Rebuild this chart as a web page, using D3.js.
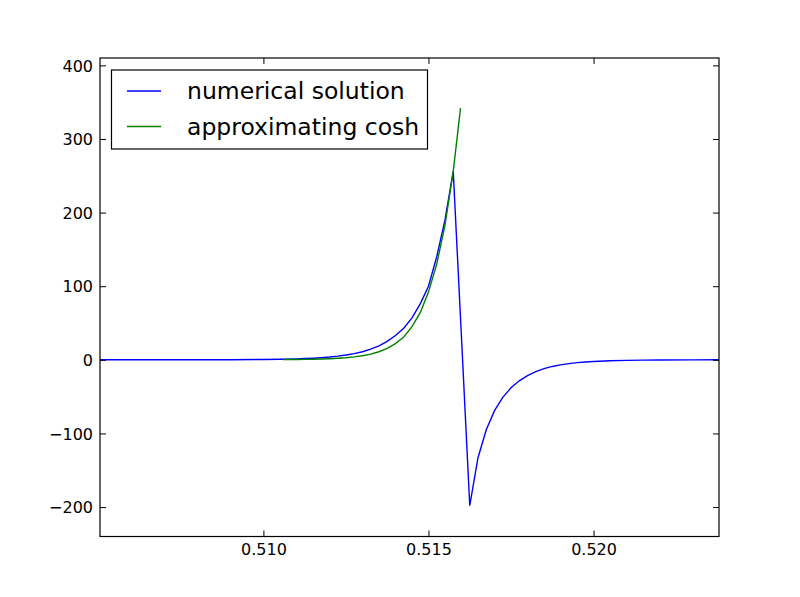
<!DOCTYPE html>
<html>
<head>
<meta charset="utf-8">
<script src="https://cdn.jsdelivr.net/npm/d3@7"></script>
<style>
  html, body { margin: 0; padding: 0; background: #fff; }
  svg { display: block; font-family: "DejaVu Sans", sans-serif; }
</style>
</head>
<body>
<svg id="chart" width="800" height="597"></svg>
<script>
// ---- data ----
const numX = [0.505, 0.506, 0.507, 0.508, 0.509, 0.510, 0.5105, 0.511, 0.51125, 0.5115, 0.51175,
  0.512, 0.51225, 0.5125, 0.51275, 0.513, 0.51325, 0.5135, 0.51375, 0.514, 0.51425, 0.5145,
  0.51475, 0.515, 0.51525, 0.5155, 0.51575, 0.516, 0.51625, 0.5165, 0.51675, 0.517, 0.51725,
  0.5175, 0.51775, 0.518, 0.51825, 0.5185, 0.51875, 0.519, 0.51925, 0.5195, 0.51975, 0.520,
  0.5205, 0.521, 0.5215, 0.522, 0.523, 0.5238];
const numY = [0, 0.01, 0.03, 0.08, 0.2, 0.5, 0.8, 1.3, 1.7, 2.2, 2.9,
  3.8, 5, 6.5, 8.5, 11, 14.5, 19, 25, 33, 43, 57,
  76, 100, 140, 190, 256, 30, -198, -133, -95, -69, -51,
  -38, -28.5, -21.5, -16, -12, -9, -6.8, -5.1, -3.8, -2.9, -2.2,
  -1.2, -0.7, -0.4, -0.2, -0.05, 0];

const coshX = [0.5106, 0.51075, 0.511, 0.51125, 0.5115, 0.51175, 0.512, 0.51225, 0.5125,
  0.51275, 0.513, 0.51325, 0.5135, 0.51375, 0.514, 0.51425, 0.5145, 0.51475, 0.515,
  0.51525, 0.5155, 0.51575, 0.51597];
const coshY = [0.3, 0.35, 0.45, 0.6, 0.8, 1.1, 1.5, 2.1, 2.9,
  4, 5.5, 7.8, 11, 15.5, 22, 31, 45, 64, 92,
  130, 183, 256, 342];

const xTicks = [0.510, 0.515, 0.520];
const yTicks = [-200, -100, 0, 100, 200, 300, 400];
const seriesNames = ["numerical solution", "approximating cosh"];
const seriesColors = ["#0000ff", "#008000"];

// ---- layout ----
const L = 100, R = 719, T = 58, B = 536.5;
const svg = d3.select("#chart");
const x = d3.scaleLinear().domain([0.50505, 0.5238]).range([L, R]);
const y = d3.scaleLinear().domain([-240, 410]).range([B, T]);

svg.append("rect").attr("width", 800).attr("height", 597).attr("fill", "#fff");

svg.append("defs").append("clipPath").attr("id", "clip")
  .append("rect").attr("x", L).attr("y", T).attr("width", R - L).attr("height", B - T);

const line = d3.line().x(d => x(d[0])).y(d => y(d[1]));
const g = svg.append("g").attr("clip-path", "url(#clip)");
g.append("path").datum(numX.map((v, i) => [v, numY[i]]))
  .attr("d", line).attr("fill", "none").attr("stroke", seriesColors[0]).attr("stroke-width", 1.4);
g.append("path").datum(coshX.map((v, i) => [v, coshY[i]]))
  .attr("d", line).attr("fill", "none").attr("stroke", seriesColors[1]).attr("stroke-width", 1.4);

// ---- axes (inward ticks on all four sides) ----
const tickLen = 6;
const fmtX = d3.format(".3f");
const fmtY = d3.format("d");

const ax = svg.append("g").attr("transform", `translate(0,${B})`)
  .call(d3.axisBottom(x).tickValues(xTicks).tickFormat(fmtX).tickSizeInner(-tickLen).tickSizeOuter(0));
ax.selectAll("text").attr("y", 18.5).attr("dy", null);

const axT = svg.append("g").attr("transform", `translate(0,${T})`)
  .call(d3.axisTop(x).tickValues(xTicks).tickFormat("").tickSizeInner(-tickLen).tickSizeOuter(0));

const ay = svg.append("g").attr("transform", `translate(${L},0)`)
  .call(d3.axisLeft(y).tickValues(yTicks).tickFormat(fmtY).tickSizeInner(-tickLen).tickSizeOuter(0).tickPadding(7));
ay.selectAll("text").attr("dy", "0.36em");

const ayR = svg.append("g").attr("transform", `translate(${R},0)`)
  .call(d3.axisRight(y).tickValues(yTicks).tickFormat("").tickSizeInner(-tickLen).tickSizeOuter(0));

[ax, axT, ay, ayR].forEach(a => {
  a.attr("font-size", 16).attr("font-family", "DejaVu Sans");
  a.select(".domain").remove();
  a.selectAll("line").attr("stroke", "#000").attr("stroke-width", 1);
  a.selectAll("text").attr("fill", "#000").style("font-size", "16px");
});

svg.append("rect").attr("x", L).attr("y", T).attr("width", R - L).attr("height", B - T)
  .attr("fill", "none").attr("stroke", "#000").attr("stroke-width", 1.2);

// ---- legend ----
const lg = svg.append("g");
lg.append("rect").attr("x", 111.5).attr("y", 70).attr("width", 316).attr("height", 79)
  .attr("fill", "#fff").attr("stroke", "#000").attr("stroke-width", 1.2);
const rowsY = [91, 126.5];
seriesNames.forEach((name, i) => {
  lg.append("line").attr("x1", 127).attr("x2", 161).attr("y1", rowsY[i]).attr("y2", rowsY[i])
    .attr("stroke", seriesColors[i]).attr("stroke-width", 1.4);
  lg.append("text").attr("x", 187).attr("y", rowsY[i] + 8.3)
    .attr("font-size", 23.5).attr("fill", "#000").text(name);
});
</script>
</body>
</html>
